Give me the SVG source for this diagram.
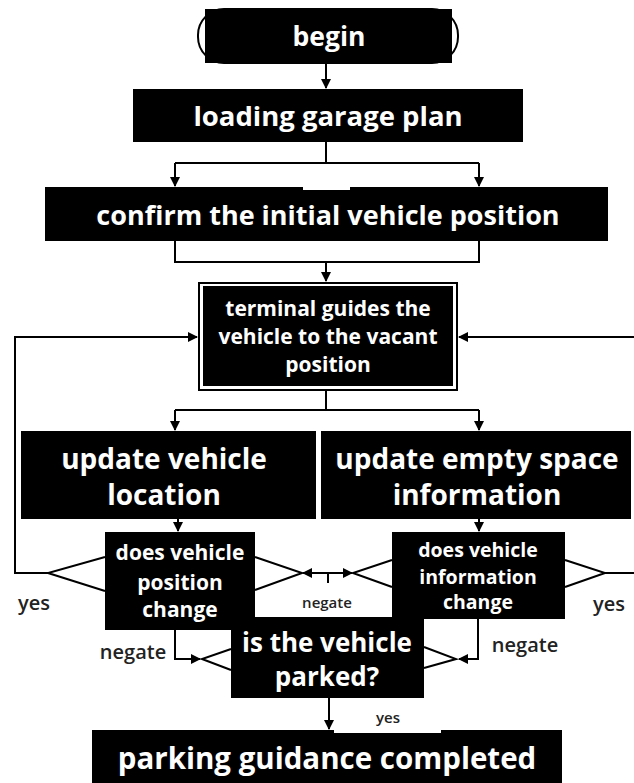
<svg xmlns="http://www.w3.org/2000/svg" width="634" height="783" viewBox="0 0 634 783">
<style>
.box{fill:#000}
.t{font-family:"Open Sans","Liberation Sans",sans-serif;font-weight:700;fill:#fff;text-anchor:middle}
.lbl{font-family:"Open Sans","Liberation Sans",sans-serif;font-weight:600;fill:#222;text-anchor:middle}
.ln{fill:none;stroke:#000;stroke-width:2}
</style>
<defs>
<marker id="ah" viewBox="0 0 10 10" refX="9" refY="5" markerWidth="5" markerHeight="5" orient="auto" markerUnits="strokeWidth">
<path d="M0,0 L10,5 L0,10 z" fill="#000"/>
</marker>
</defs>
<rect width="634" height="783" fill="#fff"/>
<g id="connectors">
<path class="ln" d="M326,63 V88" marker-end="url(#ah)"/>
<path class="ln" d="M326,142 V163 M175,163 H479"/>
<path class="ln" d="M175,163 V186" marker-end="url(#ah)"/>
<path class="ln" d="M479,163 V186" marker-end="url(#ah)"/>
<path class="ln" d="M175,241 V262 H479 V241"/>
<path class="ln" d="M326,262 V281" marker-end="url(#ah)"/>
<path class="ln" d="M326,391 V410 M175,410 H479"/>
<path class="ln" d="M175,410 V430" marker-end="url(#ah)"/>
<path class="ln" d="M479,410 V430" marker-end="url(#ah)"/>
<path class="ln" d="M178,519 V531" marker-end="url(#ah)"/>
<path class="ln" d="M479,519 V531" marker-end="url(#ah)"/>
<path class="ln" d="M105,557 L48,573 L105,591"/>
<path class="ln" d="M48,573 H15 V337 H197" marker-end="url(#ah)"/>
<path class="ln" d="M634,337 H459" marker-end="url(#ah)"/>
<path class="ln" d="M255,557 L302,573 L255,590"/>
<path class="ln" d="M328,573 H303" marker-end="url(#ah)"/>
<path class="ln" d="M328,573 H352" marker-end="url(#ah)"/>
<path class="ln" d="M328,573 V583"/>
<path class="ln" d="M392,560 L353,573 L392,587"/>
<path class="ln" d="M565,560 L605,573 L565,587 M605,573 H634"/>
<path class="ln" d="M175,630 V659 H200" marker-end="url(#ah)"/>
<path class="ln" d="M231,649 L202,659 L231,670"/>
<path class="ln" d="M478,619 V659 H459" marker-end="url(#ah)"/>
<path class="ln" d="M424,647 L456,659 L424,668"/>
<path class="ln" d="M329,698 V729" marker-end="url(#ah)"/>
</g>
<g id="begin">
<rect x="198" y="9" width="260" height="54" rx="26" fill="#fff" stroke="#000" stroke-width="2"/>
<rect class="box" x="205" y="9" width="247" height="54"/>
<text class="t" x="329" y="46" font-size="26.5">begin</text>
</g>
<g id="loading">
<rect class="box" x="133" y="89" width="390" height="53"/>
<text class="t" x="328" y="126" font-size="27.5">loading garage plan</text>
</g>
<g id="confirm">
<path class="box" d="M45,187 H303 V190 H350 V187 H608 V241 H45 Z"/>
<text class="t" x="328" y="225" font-size="27">confirm the initial vehicle position</text>
</g>
<g id="terminal">
<rect x="199" y="283" width="258" height="107" fill="#fff" stroke="#000" stroke-width="2"/>
<rect class="box" x="203" y="286" width="250" height="100"/>
<text class="t" x="328" y="316" font-size="21">terminal guides the</text>
<text class="t" x="328" y="344" font-size="21">vehicle to the vacant</text>
<text class="t" x="328" y="372" font-size="21">position</text>
</g>
<g id="update-location">
<rect class="box" x="21" y="431" width="295" height="88"/>
<text class="t" x="164" y="469" font-size="28">update vehicle</text>
<text class="t" x="164" y="505" font-size="28">location</text>
</g>
<g id="update-space">
<rect class="box" x="321" y="431" width="310" height="88"/>
<text class="t" x="477" y="469" font-size="28">update empty space</text>
<text class="t" x="477" y="505" font-size="28">information</text>
</g>
<g id="position-change">
<rect class="box" x="105" y="532" width="150" height="98"/>
<text class="t" x="180" y="560" font-size="21">does vehicle</text>
<text class="t" x="180" y="590" font-size="21">position</text>
<text class="t" x="180" y="617" font-size="21">change</text>
<text class="lbl" x="34" y="610" font-size="20">yes</text>
<text class="lbl" x="327" y="608" font-size="15">negate</text>
<text class="lbl" x="133" y="659" font-size="20">negate</text>
</g>
<g id="info-change">
<rect class="box" x="392" y="532" width="173" height="87"/>
<text class="t" x="478" y="557" font-size="19.5">does vehicle</text>
<text class="t" x="478" y="584" font-size="19.5">information</text>
<text class="t" x="478" y="609" font-size="19.5">change</text>
<text class="lbl" x="609" y="611" font-size="20" text-anchor="start">yes</text>
<text class="lbl" x="525" y="652" font-size="20">negate</text>
</g>
<g id="parked">
<rect class="box" x="231" y="617" width="193" height="81"/>
<text class="t" x="327" y="652" font-size="26">is the vehicle</text>
<text class="t" x="327" y="686" font-size="26">parked?</text>
<text class="lbl" x="388" y="723" font-size="15">yes</text>
</g>
<g id="completed">
<path class="box" d="M92,730 H334 V733 H441 V730 H562 V783 H92 Z"/>
<text class="t" x="327" y="769" font-size="29.5">parking guidance completed</text>
</g>
</svg>
